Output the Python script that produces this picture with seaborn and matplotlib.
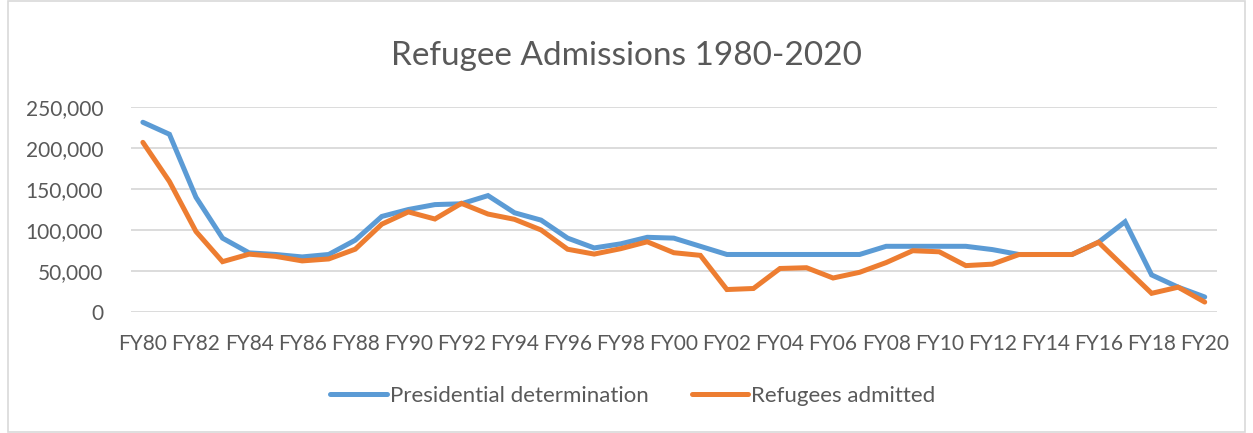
import matplotlib
matplotlib.use("Agg")
import matplotlib.pyplot as plt
import matplotlib.ticker as mticker
import seaborn as sns
import pandas as pd

years = [f"FY{y % 100:02d}" for y in range(1980, 2021)]

presidential_determination = [
    231700, 217000, 140000, 90000, 72000, 70000, 67000, 70000, 87500, 116500,
    125000, 131000, 132000, 142000, 121000, 112000, 90000, 78000, 83000, 91000,
    90000, 80000, 70000, 70000, 70000, 70000, 70000, 70000, 80000, 80000,
    80000, 80000, 76000, 70000, 70000, 70000, 85000, 110000, 45000, 30000,
    18000,
]
refugees_admitted = [
    207116, 159252, 98096, 61218, 70393, 67704, 62146, 64528, 76483, 107070,
    122066, 113389, 132531, 119448, 112981, 99974, 76403, 70488, 77080, 85525,
    72165, 68920, 27131, 28403, 52873, 53813, 41223, 48218, 60108, 74602,
    73293, 56384, 58179, 69909, 69975, 69933, 84994, 53716, 22491, 30000,
    11814,
]

df = pd.DataFrame({
    "year": years * 2,
    "value": presidential_determination + refugees_admitted,
    "series": ["Presidential determination"] * len(years)
              + ["Refugees admitted"] * len(years),
})
df["pos"] = list(range(len(years))) * 2

sns.set_theme(style="white")
plt.rcParams["font.family"] = ["Lato", "DejaVu Sans"]

fig = plt.figure(figsize=(12.53, 4.33), dpi=100)
ax = fig.add_axes([0.1045, 0.2801, 0.8665, 0.4721])

sns.lineplot(data=df, x="pos", y="value", hue="series",
             palette=["#5B9BD5", "#ED7D31"], linewidth=3.6,
             ax=ax, legend=True)
for ln in ax.lines:
    ln.set_solid_capstyle("round")
    ln.set_solid_joinstyle("miter")

ax.set_xlim(-0.45, len(years) - 0.55)
ax.set_ylim(0, 250000)
ax.set_yticks(range(0, 250001, 50000))
ax.yaxis.set_major_formatter(mticker.FuncFormatter(lambda v, p: f"{int(v):,}"))
ax.set_xticks(range(0, len(years), 2))
ax.set_xticklabels(years[::2])
ax.tick_params(axis="both", labelsize=15, colors="#595959", length=0)
ax.tick_params(axis="y", pad=20)
ax.tick_params(axis="x", pad=16)
ax.grid(axis="y", color="#D9D9D9", linewidth=1.3)
ax.set_axisbelow(True)
for s in ax.spines.values():
    s.set_visible(False)
ax.set_xlabel("")
ax.set_ylabel("")

fig.suptitle("Refugee Admissions 1980-2020", y=0.905, fontsize=24, color="#595959")

handles, labels = ax.get_legend_handles_labels()
ax.legend(handles, labels, loc="center", bbox_to_anchor=(0.505, 0.085),
          bbox_transform=fig.transFigure, ncol=2, frameon=False,
          fontsize=16, labelcolor="#595959", handlelength=2.56,
          handletextpad=0.13, columnspacing=1.94)

fig.patches.append(plt.Rectangle((0.006, 0.002), 0.988, 0.996, transform=fig.transFigure,
                                 fill=False, edgecolor="#D9D9D9", linewidth=1.2))

fig.savefig("out.png", dpi=100)
